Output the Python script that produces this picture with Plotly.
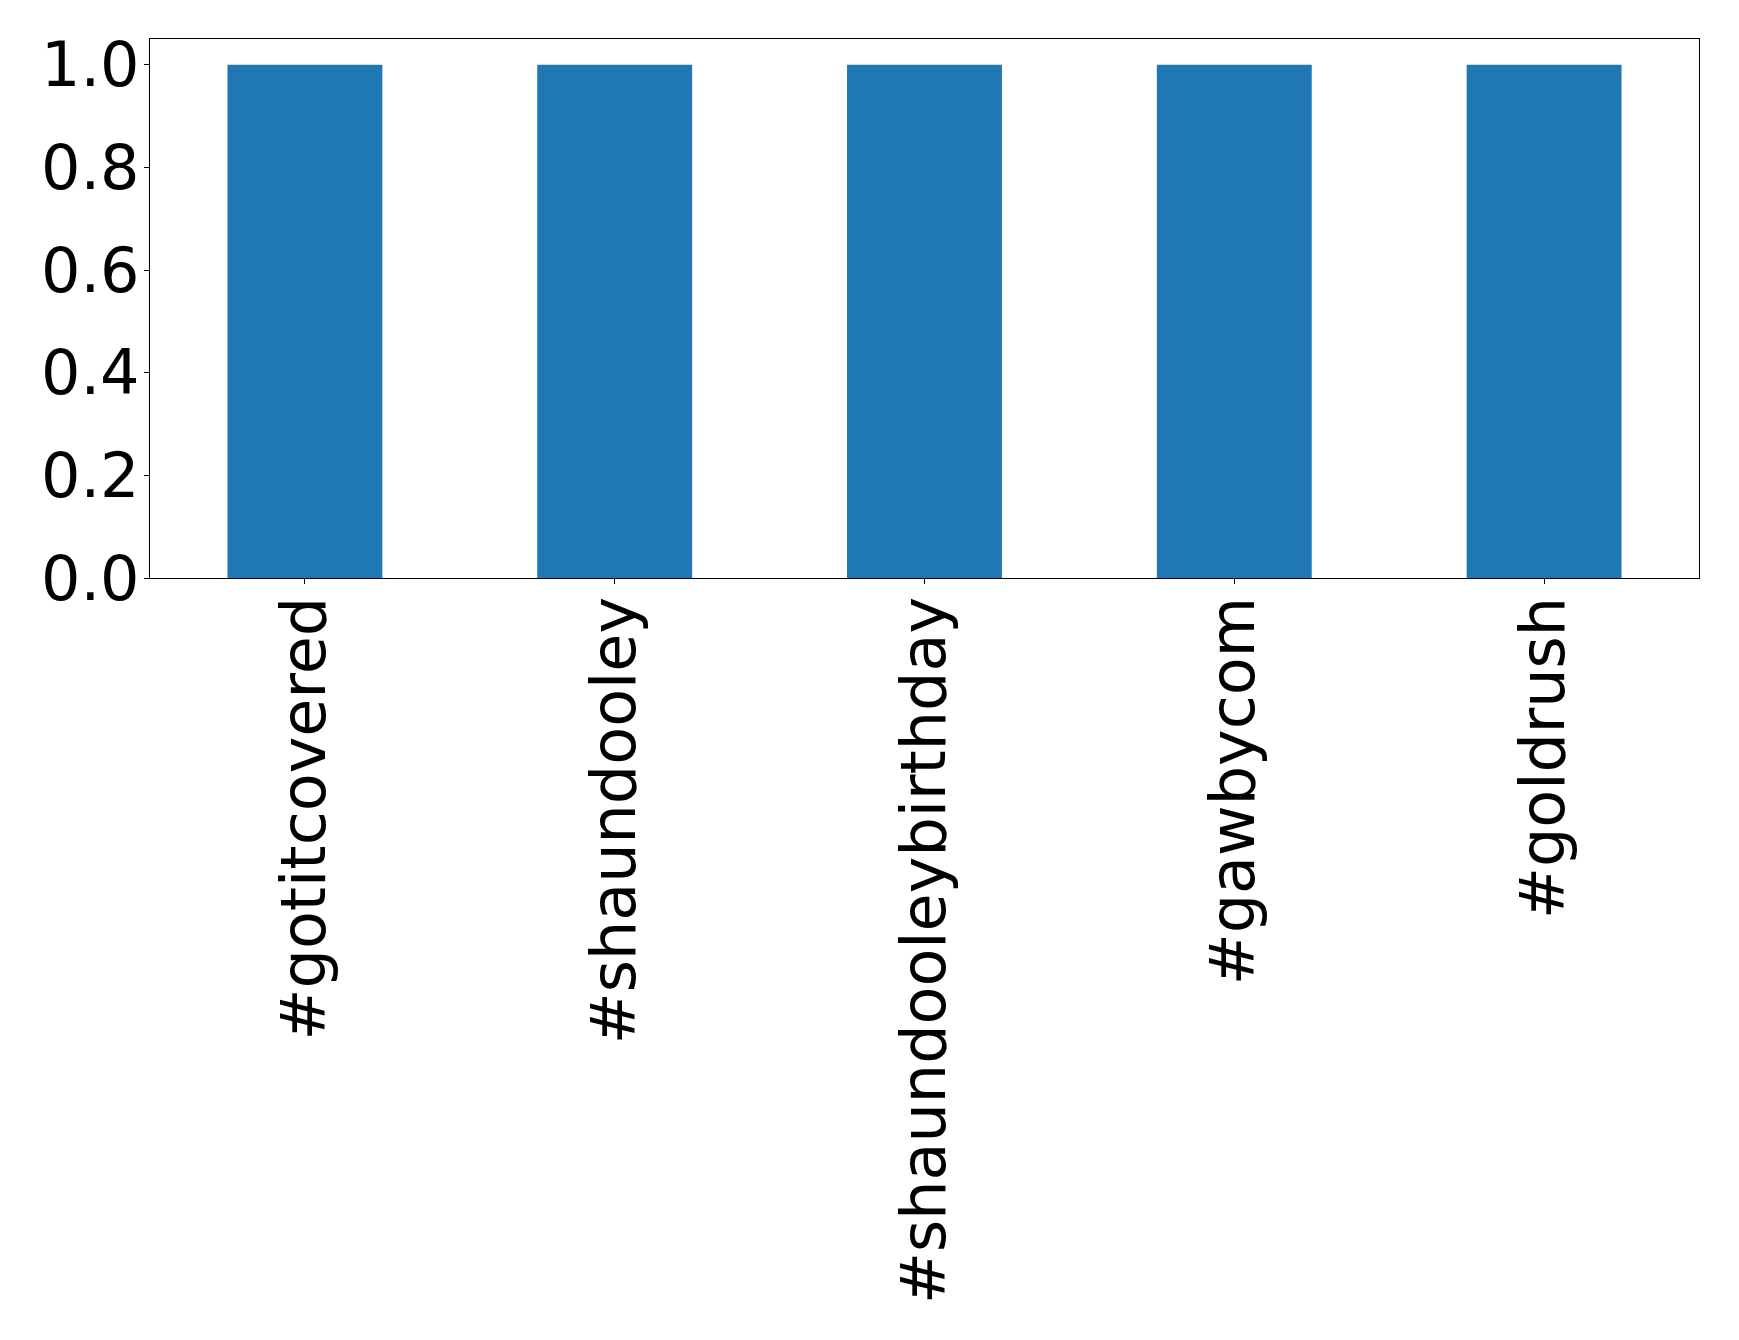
import plotly.graph_objects as go

categories = ["#gotitcovered", "#shaundooley", "#shaundooleybirthday", "#gawbycom", "#goldrush"]
values = [1, 1, 1, 1, 1]
y_ticks = [0.0, 0.2, 0.4, 0.6, 0.8, 1.0]
y_tick_labels = ["0.0", "0.2", "0.4", "0.6", "0.8", "1.0"]

fig = go.Figure(go.Bar(x=categories, y=values, width=0.5, marker=dict(color="#1f77b4", line=dict(width=0))))

font = dict(family="DejaVu Sans", size=62, color="black")
fig.update_layout(
    width=1739, height=1340,
    margin=dict(l=142, r=48, t=31, b=770, autoexpand=False),
    paper_bgcolor="white", plot_bgcolor="white",
    showlegend=False,
    font=font,
)
fig.update_xaxes(
    range=[-0.5, 4.5], tickangle=-90, tickfont=font,
    showline=True, mirror=True, linecolor="black", linewidth=1.1,
    ticks="outside", ticklen=5, tickwidth=1.1, tickcolor="black",
    showgrid=False, zeroline=False, ticklabelstandoff=-12,
)
fig.update_yaxes(
    range=[0, 1.05], tickvals=y_ticks, ticktext=y_tick_labels, tickfont=font,
    showline=True, mirror=True, linecolor="black", linewidth=1.1,
    ticks="outside", ticklen=5, tickwidth=1.1, tickcolor="black",
    showgrid=False, zeroline=False, ticklabelstandoff=-8,
)
fig.write_html("out.html")
